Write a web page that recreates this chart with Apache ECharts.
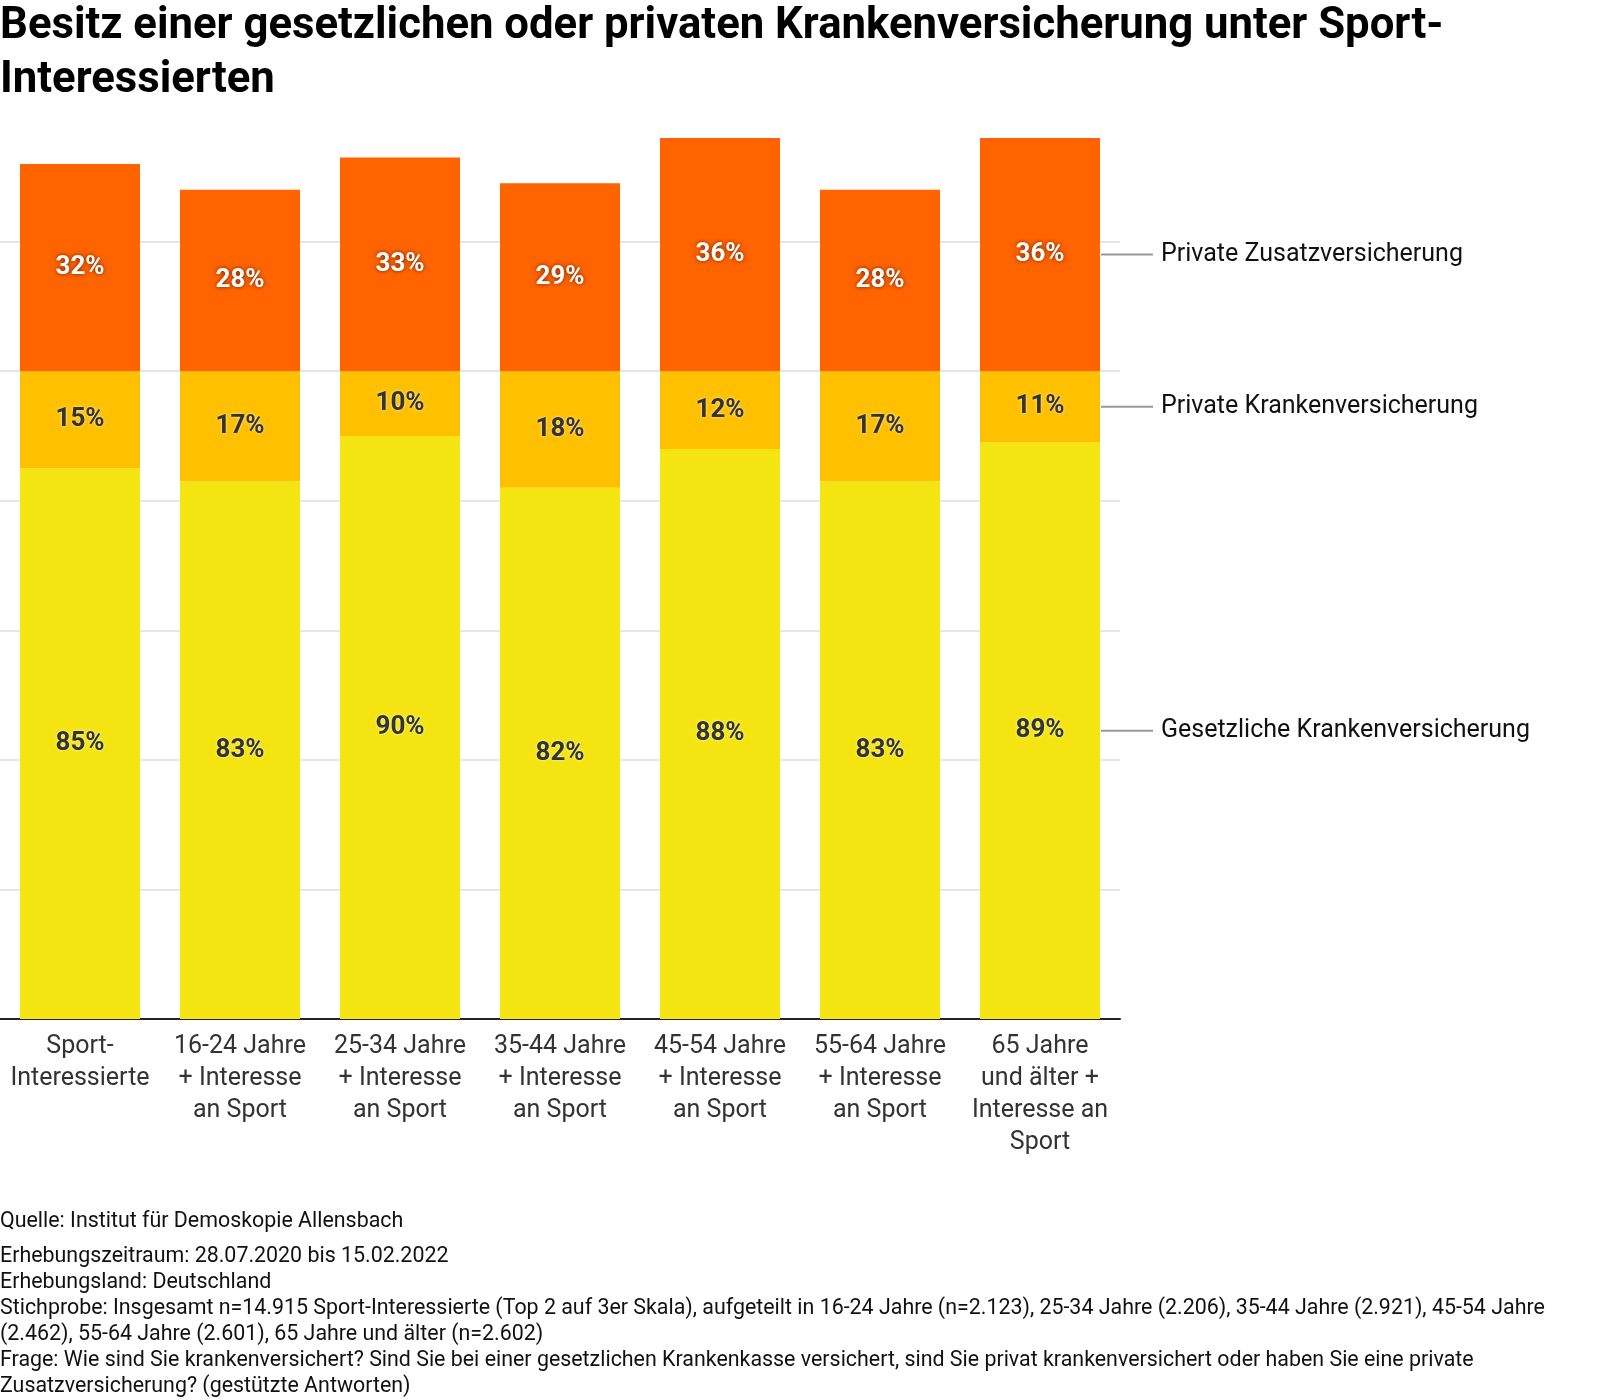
<!DOCTYPE html>
<html>
<head>
<meta charset="utf-8">
<script src="https://cdn.jsdelivr.net/npm/echarts@6/dist/echarts.min.js"></script>
<style>
  html, body { margin: 0; padding: 0; background: #fff; }
  #main { width: 1600px; height: 1400px; }
</style>
</head>
<body>
<div id="main"></div>
<script>
var categories = [
  'Sport-\nInteressierte',
  '16-24 Jahre\n+ Interesse\nan Sport',
  '25-34 Jahre\n+ Interesse\nan Sport',
  '35-44 Jahre\n+ Interesse\nan Sport',
  '45-54 Jahre\n+ Interesse\nan Sport',
  '55-64 Jahre\n+ Interesse\nan Sport',
  '65 Jahre\nund älter +\nInteresse an\nSport'
];
var gesetzlich = [85, 83, 90, 82, 88, 83, 89];
var privatKV = [15, 17, 10, 18, 12, 17, 11];
var zusatz = [32, 28, 33, 29, 36, 28, 36];
var seriesNames = ['Gesetzliche Krankenversicherung', 'Private Krankenversicherung', 'Private Zusatzversicherung'];
var colors = ['#F4E512', '#FFC000', '#FF6400'];

var font = 'Roboto';
var chart = echarts.init(document.getElementById('main'));

function darkLabel() {
  return {
    show: true,
    position: 'inside',
    formatter: '{c}%',
    fontFamily: font,
    fontSize: 26,
    fontWeight: 'bold',
    color: '#333',
    textShadowColor: 'rgba(255,255,255,0.7)',
    textShadowBlur: 3
  };
}

var option = {
  animation: false,
  textStyle: { fontFamily: font },
  title: [{
    text: 'Besitz einer gesetzlichen oder privaten Krankenversicherung unter Sport-\nInteressierten',
    left: 0,
    top: 0,
    padding: 0,
    textStyle: { fontFamily: font, fontSize: 43.7, fontWeight: 'bold', color: '#000', lineHeight: 54 }
  }, {
    text: 'Quelle: Institut für Demoskopie Allensbach',
    left: 0,
    top: 1209,
    padding: 0,
    textStyle: { fontFamily: font, fontSize: 21.4, fontWeight: 'normal', color: '#111', lineHeight: 26 }
  }, {
    text: 'Erhebungszeitraum: 28.07.2020 bis 15.02.2022\n' +
      'Erhebungsland: Deutschland\n' +
      'Stichprobe: Insgesamt n=14.915 Sport-Interessierte (Top 2 auf 3er Skala), aufgeteilt in 16-24 Jahre (n=2.123), 25-34 Jahre (2.206), 35-44 Jahre (2.921), 45-54 Jahre\n' +
      '(2.462), 55-64 Jahre (2.601), 65 Jahre und älter (n=2.602)\n' +
      'Frage: Wie sind Sie krankenversichert? Sind Sie bei einer gesetzlichen Krankenkasse versichert, sind Sie privat krankenversichert oder haben Sie eine private\n' +
      'Zusatzversicherung? (gestützte Antworten)',
    left: 0,
    top: 1244,
    padding: 0,
    textStyle: { fontFamily: font, fontSize: 21.4, fontWeight: 'normal', color: '#111', lineHeight: 26 }
  }],
  grid: { left: 0, right: 480, top: 138, bottom: 381, containLabel: false },
  xAxis: {
    type: 'category',
    data: categories,
    axisLine: { lineStyle: { color: '#222', width: 2 } },
    axisTick: { show: false },
    axisLabel: { fontFamily: font, fontSize: 25, color: '#333', lineHeight: 32, margin: 12, interval: 0 }
  },
  yAxis: {
    type: 'value',
    min: 0,
    max: 136,
    interval: 20,
    axisLine: { show: false },
    axisTick: { show: false },
    axisLabel: { show: false },
    splitLine: { show: true, showMaxLine: false, lineStyle: { color: '#e6e6e6', width: 2 } }
  },
  series: [{
    name: seriesNames[0],
    type: 'bar',
    stack: 'total',
    barCategoryGap: '25%',
    data: gesetzlich,
    itemStyle: { color: colors[0] },
    label: darkLabel()
  }, {
    name: seriesNames[1],
    type: 'bar',
    stack: 'total',
    data: privatKV,
    itemStyle: { color: colors[1] },
    label: darkLabel()
  }, {
    name: seriesNames[2],
    type: 'bar',
    stack: 'total',
    data: zusatz,
    itemStyle: { color: colors[2] },
    label: {
      show: true,
      position: 'inside',
      formatter: '{c}%',
      fontFamily: font,
      fontSize: 26,
      fontWeight: 'bold',
      color: '#fff',
      textShadowColor: 'rgba(80,20,0,0.8)',
      textShadowBlur: 4
    }
  }]
};
chart.setOption(option);

// labels to the right of the last bar, placed through the chart's own scales
var last = categories.length - 1;
var xLast = chart.convertToPixel({ gridIndex: 0 }, [last, 0])[0];
var xPrev = chart.convertToPixel({ gridIndex: 0 }, [last - 1, 0])[0];
var barRight = xLast + (xLast - xPrev) * 0.375;
var stacks = [gesetzlich, privatKV, zusatz];
var base = 0;
var graphics = [];
for (var i = 0; i < stacks.length; i++) {
  var v = stacks[i][last];
  var y = chart.convertToPixel({ gridIndex: 0 }, [last, base + v / 2])[1];
  base += v;
  graphics.push({
    type: 'line',
    shape: { x1: barRight + 1, y1: y, x2: barRight + 53, y2: y },
    style: { stroke: '#999', lineWidth: 2 }
  });
  graphics.push({
    type: 'text',
    x: barRight + 61,
    y: y,
    style: {
      text: seriesNames[i],
      fontFamily: font,
      fontSize: 25,
      fill: '#111',
      verticalAlign: 'middle'
    }
  });
}
chart.setOption({ graphic: graphics });
</script>
</body>
</html>
